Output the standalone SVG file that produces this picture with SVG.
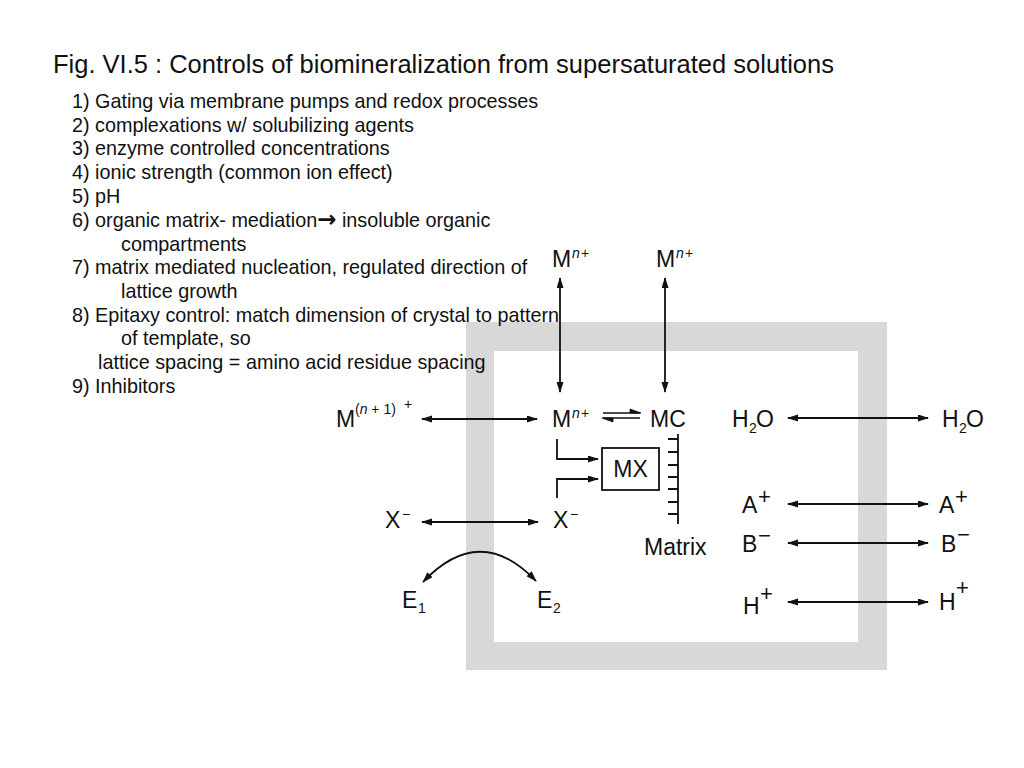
<svg xmlns="http://www.w3.org/2000/svg" width="1024" height="768" viewBox="0 0 1024 768">
<style>
text{font-family:"Liberation Sans",Arial,sans-serif;fill:#111}
.t{font-size:25.5px}
.l{font-size:19.8px}
.d{font-size:23px}
.s{font-size:14px}
.si{font-size:14px;font-style:italic}
.p{font-size:22px}
.a{stroke:#111;stroke-width:1.8;fill:none}
.ah{marker-start:url(#ar);marker-end:url(#ar)}
.ae{marker-end:url(#ar)}
</style>
<defs>
<marker id="ar" markerUnits="userSpaceOnUse" markerWidth="12" markerHeight="8" refX="10" refY="3.5" orient="auto-start-reverse" viewBox="0 0 12 8">
<path d="M0,0 L11,3.5 L0,7 z" fill="#111"/>
</marker>
</defs>
<rect width="1024" height="768" fill="#fff"/>
<path id="frame" fill="#d8d8d8" fill-rule="evenodd" d="M466,322 H887 V670 H466 Z M494,351 V642 H858 V351 Z"/>

<g id="title"><text class="t" x="53" y="73">Fig. VI.5 : Controls of biomineralization from supersaturated solutions</text></g>
<g id="list">
<text class="l" x="72" y="108">1) Gating via membrane pumps and redox processes</text>
<text class="l" x="72" y="132">2) complexations w/ solubilizing agents</text>
<text class="l" x="72" y="155">3) enzyme controlled concentrations</text>
<text class="l" x="72" y="179">4) ionic strength (common ion effect)</text>
<text class="l" x="72" y="203">5) pH</text>
<text class="l" x="72" y="227">6) organic matrix- mediation<tspan font-family="DejaVu Sans, sans-serif" font-weight="bold" font-size="23">→</tspan> insoluble organic</text>
<text class="l" x="121" y="251">compartments</text>
<text class="l" x="72" y="274">7) matrix mediated nucleation, regulated direction of</text>
<text class="l" x="121" y="298">lattice growth</text>
<text class="l" x="72" y="322">8) Epitaxy control: match dimension of crystal to pattern</text>
<text class="l" x="121" y="345">of template, so</text>
<text class="l" x="98" y="369">lattice spacing = amino acid residue spacing</text>
<text class="l" x="72" y="393">9) Inhibitors</text>
</g>

<g id="Mn-top-left"><text class="d" x="552" y="267">M</text><text class="si" x="572" y="258">n</text><text class="s" x="581" y="258">+</text></g>
<g id="Mn-top-right"><text class="d" x="656" y="267">M</text><text class="si" x="676" y="258">n</text><text class="s" x="685" y="258">+</text></g>
<g id="Mn1"><text class="d" x="336" y="427">M</text><text class="s" x="355" y="414">(<tspan font-style="italic">n</tspan> + 1)</text><text class="s" x="404" y="409">+</text></g>
<g id="Mn-mid"><text class="d" x="552" y="427">M</text><text class="si" x="572" y="418">n</text><text class="s" x="581" y="418">+</text></g>
<g id="MC"><text class="d" x="650" y="427">MC</text></g>
<g id="MX"><rect x="602" y="448" width="57" height="42" fill="none" stroke="#111" stroke-width="1.8"/><text class="d" x="630.5" y="477" text-anchor="middle">MX</text></g>
<g id="matrix">
<path d="M678,434 V524 M668,439 H678 M668,452 H678 M668,465 H678 M668,477 H678 M668,489 H678 M668,502 H678 M668,514 H678" stroke="#111" stroke-width="1.8" fill="none"/>
<text class="d" x="644" y="555">Matrix</text>
</g>
<g id="X-left"><text class="d" x="385" y="528">X</text><text class="s" x="402" y="519">−</text></g>
<g id="X-right"><text class="d" x="553" y="528">X</text><text class="s" x="570" y="519">−</text></g>
<g id="E1"><text class="d" x="402" y="608">E</text><text class="s" x="418" y="613">1</text></g>
<g id="E2"><text class="d" x="537" y="608">E</text><text class="s" x="553" y="613">2</text></g>
<g id="H2O-left"><text class="d" x="732" y="427">H</text><text class="s" x="749" y="433">2</text><text class="d" x="756" y="427">O</text></g>
<g id="H2O-right"><text class="d" x="942" y="427">H</text><text class="s" x="959" y="433">2</text><text class="d" x="966" y="427">O</text></g>
<g id="A-left"><text class="d" x="742" y="513">A</text><text class="p" x="758" y="504">+</text></g>
<g id="A-right"><text class="d" x="939" y="513">A</text><text class="p" x="955" y="504">+</text></g>
<g id="B-left"><text class="d" x="742" y="552">B</text><text class="p" x="758" y="543">−</text></g>
<g id="B-right"><text class="d" x="941" y="552">B</text><text class="p" x="957" y="542">−</text></g>
<g id="H-left"><text class="d" x="743" y="614">H</text><text class="p" x="760" y="601">+</text></g>
<g id="H-right"><text class="d" x="939" y="610">H</text><text class="p" x="956" y="595">+</text></g>

<g id="connectors">
<line class="a ah" x1="560" y1="278" x2="560" y2="392"/>
<line class="a ah" x1="665" y1="278" x2="665" y2="392"/>
<line class="a ah" x1="422" y1="419" x2="537" y2="419"/>
<line class="a ah" x1="422" y1="522" x2="538" y2="522"/>
<path class="a ah" d="M423,582 Q480,522 536,581"/>
<polyline class="a ae" points="557,439 557,459 598,459"/>
<polyline class="a ae" points="557,498 557,479 598,479"/>
<path d="M603,413 H640 M603,418 H640" stroke="#111" stroke-width="1.6" fill="none"/>
<path d="M641,413 L630,409 L630,413 Z M602,418 L613,422 L613,418 Z" fill="#111" stroke="#111" stroke-width="0.8"/>
<line class="a ah" x1="788" y1="418" x2="928" y2="418"/>
<line class="a ah" x1="788" y1="504" x2="928" y2="504"/>
<line class="a ah" x1="788" y1="543" x2="928" y2="543"/>
<line class="a ah" x1="788" y1="602" x2="928" y2="602"/>
</g>
</svg>
